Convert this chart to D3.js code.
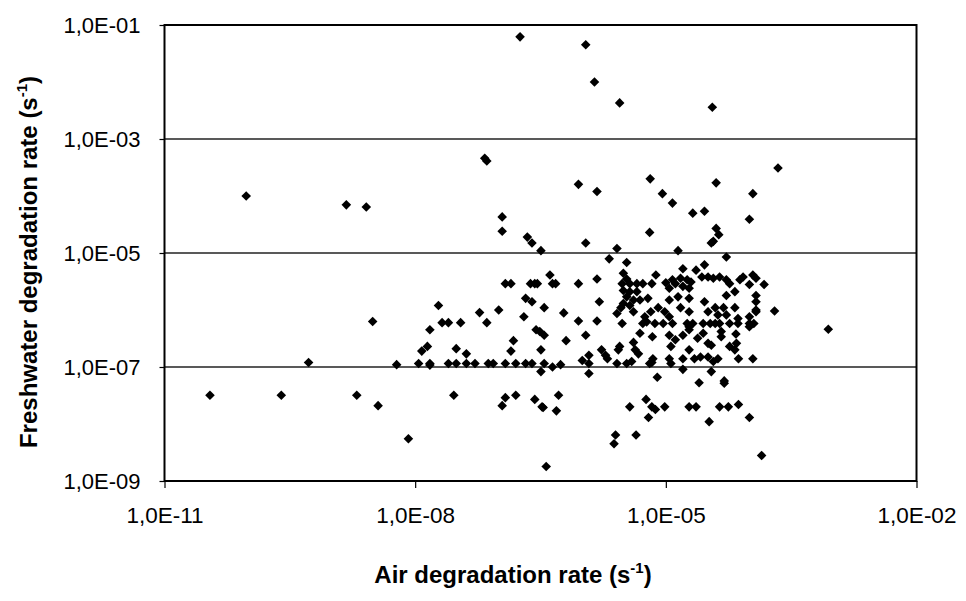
<!DOCTYPE html>
<html>
<head>
<meta charset="utf-8">
<script src="https://cdn.jsdelivr.net/npm/d3@7"></script>
<style>
  body { margin: 0; background: #fff; }
  svg { display: block; font-family: "Liberation Sans", Arial, sans-serif; }
</style>
</head>
<body>
<svg id="chart"></svg>
<script>
var width = 966
var height = 601

// air / freshwater degradation rates (s-1), one pair per point
var airRate = [
  1.8e-7, 1.1e-6, 1.4e-6, 2.8e-6, 6.8e-8, 7.2e-8, 3.6e-5, 2.2e-4, 9.5e-11, 1.5e-9,
  2.6e-9, 3.1e-9, 6.5e-6, 9.0e-7, 1.5e-6, 9.1e-6, 1.1e-7, 1.1e-7, 2.2e-7, 2.5e-7,
  3.2e-7, 1.1e-6, 2.6e-6, 2.1e-6, 3.4e-6, 4.1e-7, 1.2e-7, 1.4e-7, 2.4e-7, 2.7e-7,
  2.9e-7, 4.4e-7, 4.8e-7, 9.0e-7, 1.5e-6, 3.1e-6, 3.4e-6, 3.0e-6, 3.7e-6, 4.5e-6,
  5.3e-6, 6.8e-6, 7.6e-6, 3.1e-6, 3.7e-6, 4.5e-6, 3.4e-6, 4.1e-6, 4.9e-6, 6.1e-6,
  3.1e-6, 3.7e-6, 4.1e-6, 8.1e-6, 6.6e-6, 5.6e-6, 2.6e-6, 2.9e-6, 1.9e-8, 5.9e-8,
  1.0e-7, 2.1e-7, 2.5e-7, 3.5e-7, 2.0e-7, 6.0e-7, 1.6e-6, 9.0e-7, 1.5e-6, 3.0e-6,
  2.1e-8, 2.5e-8, 3.5e-8, 7.2e-8, 1.5e-8, 2.8e-7, 3.1e-7, 5.3e-6, 5.9e-6, 7.4e-6,
  4.9e-6, 3.5e-7, 1.1e-6, 6.9e-6, 6.4e-7, 1.5e-7, 1.2e-8, 1.4e-8, 3.1e-8, 4.1e-8,
  1.4e-7, 3.2e-7, 1.2e-6, 1.7e-6, 1.9e-6, 2.0e-6, 2.8e-6, 2.7e-6, 4.1e-6, 4.3e-6,
  4.7e-6, 6.8e-6, 7.0e-6, 1.1e-8, 1.5e-8, 2.5e-8, 3.1e-8, 4.1e-8, 5.2e-8, 7.5e-8,
  8.6e-8, 1.2e-7, 1.6e-7, 2.1e-7, 2.5e-7, 3.5e-7, 4.4e-7, 5.5e-7, 1.0e-6, 1.2e-6,
  2.6e-6, 3.4e-6, 3.9e-6, 6.4e-6, 1.5e-8, 3.2e-7, 1.2e-6, 7.9e-6, 2.9e-8, 1.2e-7,
  1.1e-7, 1.6e-7, 2.7e-7, 3.3e-7, 3.4e-7, 5.2e-7, 4.9e-7, 3.7e-6, 5.8e-6, 6.8e-6,
  7.5e-6, 6.2e-6, 8.3e-9, 2.5e-6, 2.4e-6, 4.4e-6, 3.7e-7, 5.3e-10, 6.0e-9, 3.5e-11,
  2.5e-10, 2.0e-9, 3.6e-9, 8.8e-4, 1.4e-4, 1.0e-4, 3.3e-5, 7.4e-5, 4.4e-5, 5.6e-5,
  1.9e-5, 2.3e-5, 9.7e-6, 2.5e-5, 5.0e-5, 5.0e-5, 1.6e-5, 3.5e-5, 1.1e-4, 7.4e-5,
  4.2e-5, 3.7e-5, 3.2e-5, 2.6e-5, 2.2e-5, 1.6e-5, 1.1e-5, 1.15e-5, 1.9e-5, 1.15e-5,
  1.3e-5, 1.1e-5, 1.6e-5, 1.9e-5, 2.4e-5, 2.8e-5, 3.2e-5, 3.5e-5, 5.8e-5, 6.7e-5,
  7.0e-5, 4.6e-5, 4.6e-5, 6.9e-5, 9.3e-6, 1.2e-5, 1.8e-5, 2.1e-5, 2.8e-5, 3.4e-5,
  4.4e-5, 5.8e-5, 7.3e-5, 1.0e-4, 1.13e-4, 1.0e-4, 1.9e-5, 3.9e-5, 4.0e-5, 1.1e-4,
  1.2e-5, 2.1e-5, 2.9e-5, 1.0e-4, 6.4e-6, 4.0e-5, 4.3e-5, 3.5e-5, 3.7e-5, 1.4e-5,
  5.3e-5, 1.6e-5, 2.3e-5, 2.9e-5, 1.0e-5, 1.2e-5, 1.3e-5, 1.5e-5, 1.8e-5, 2.0e-5,
  2.7e-5, 3.2e-5, 3.7e-5, 4.4e-5, 5.3e-5, 5.8e-5, 7.7e-5, 8.4e-5, 1.1e-4, 1.2e-4,
  1.0e-4, 1.5e-4, 1.1e-5, 1.6e-5, 1.9e-5, 1.1e-5, 1.4e-5, 1.5e-5, 1.9e-5, 2.9e-5,
  3.9e-5, 4.9e-5, 6.7e-5, 5.3e-5, 6.7e-5, 1.2e-4, 1.2e-4, 1.2e-4, 2.0e-4, 9.7e-6,
  1.1e-5, 1.9e-5, 3.2e-5, 4.2e-5, 5.3e-5, 7.3e-5, 1.0e-4, 1.2e-4
]

var freshwaterRate = [
  6.2e-2, 4.5e-2, 1.0e-2, 4.3e-3, 4.6e-4, 4.1e-4, 3.6e-3, 3.1e-4, 1.0e-4, 7.0e-5,
  6.4e-5, 6.3e-7, 2.0e-4, 1.6e-4, 1.2e-4, 1.1e-4, 4.3e-5, 2.4e-5, 1.9e-5, 1.5e-5,
  1.1e-5, 1.5e-5, 1.2e-5, 7.9e-6, 6.8e-6, 4.1e-6, 2.9e-6, 2.9e-6, 2.9e-6, 2.9e-6,
  2.9e-6, 2.9e-6, 2.9e-6, 2.9e-6, 3.5e-6, 4.4e-6, 3.5e-6, 2.9e-6, 2.9e-6, 2.9e-6,
  2.9e-6, 2.9e-6, 4.1e-6, 2.2e-6, 2.1e-6, 2.1e-6, 1.7e-6, 1.5e-6, 1.5e-6, 1.6e-6,
  1.3e-6, 1.2e-6, 9.3e-7, 1.1e-6, 9.3e-7, 7.6e-7, 8.7e-7, 1.1e-6, 1.2e-6, 9.0e-7,
  1.0e-6, 1.6e-6, 1.4e-6, 1.1e-6, 7.6e-7, 8.9e-7, 1.4e-6, 6.4e-7, 6.4e-7, 5.8e-7,
  6.0e-7, 6.0e-7, 6.0e-7, 6.0e-7, 4.5e-7, 4.5e-7, 4.2e-7, 5.8e-7, 6.2e-7, 5.8e-7,
  3.9e-7, 3.6e-7, 3.6e-7, 3.4e-7, 2.9e-7, 2.9e-7, 1.9e-7, 2.3e-7, 2.1e-7, 1.7e-7,
  1.9e-7, 2.0e-7, 1.6e-7, 2.0e-7, 1.6e-7, 1.4e-7, 2.3e-7, 2.0e-7, 2.7e-7, 2.0e-7,
  1.7e-7, 1.2e-7, 1.4e-7, 1.15e-7, 1.15e-7, 1.15e-7, 1.15e-7, 1.15e-7, 1.15e-7, 1.15e-7,
  1.15e-7, 1.15e-7, 1.15e-7, 1.15e-7, 1.15e-7, 1.15e-7, 1.0e-7, 1.1e-7, 1.3e-7, 1.15e-7,
  1.15e-7, 1.15e-7, 1.25e-7, 1.15e-7, 1.08e-7, 8.3e-8, 7.7e-8, 6.6e-8, 3.2e-8, 2.9e-8,
  2.1e-8, 3.2e-8, 2.7e-8, 2.0e-8, 1.95e-8, 3.2e-8, 1.7e-8, 2.0e-8, 2.7e-8, 2.0e-8,
  1.8e-8, 1.3e-8, 5.5e-9, 6.4e-9, 4.5e-9, 6.4e-9, 1.8e-9, 1.2e-7, 1.1e-7, 3.2e-8,
  3.2e-8, 3.2e-8, 2.1e-8, 4.6e-7, 2.8e-9, 1.3e-8, 1.1e-8, 2.2e-8, 2.0e-8, 2.0e-8,
  2.0e-8, 2.0e-8, 2.0e-8, 5.3e-8, 5.7e-8, 5.2e-8, 9.1e-8, 8.3e-8, 1.4e-7, 1.4e-7,
  1.4e-7, 1.25e-7, 1.5e-7, 1.5e-7, 1.4e-7, 1.4e-7, 1.4e-7, 1.15e-7, 2.0e-7, 2.3e-7,
  3.0e-7, 3.6e-7, 3.6e-7, 4.5e-7, 3.2e-7, 3.9e-7, 2.6e-7, 2.4e-7, 2.3e-7, 2.0e-7,
  2.6e-7, 4.2e-7, 3.4e-7, 3.8e-7, 5.8e-7, 5.8e-7, 5.8e-7, 5.8e-7, 5.8e-7, 5.8e-7,
  5.8e-7, 5.8e-7, 5.8e-7, 5.8e-7, 5.8e-7, 5.1e-7, 5.1e-7, 5.8e-7, 1.7e-4, 1.1e-4,
  7.5e-5, 5.0e-5, 5.4e-5, 3.9e-5, 2.3e-5, 2.7e-5, 2.1e-5, 1.5e-5, 1.6e-5, 1.1e-5,
  8.5e-6, 5.3e-6, 5.0e-6, 6.2e-6, 3.0e-6, 3.4e-6, 2.9e-6, 3.6e-6, 3.4e-6, 3.1e-6,
  3.8e-6, 3.8e-6, 3.6e-6, 3.8e-6, 3.4e-6, 2.9e-6, 3.4e-6, 3.8e-6, 4.1e-6, 3.6e-6,
  2.8e-6, 2.8e-6, 2.4e-6, 2.6e-6, 2.4e-6, 1.5e-6, 1.7e-6, 1.1e-6, 1.6e-6, 1.4e-6,
  1.1e-6, 1.1e-6, 1.1e-6, 1.8e-6, 2.1e-6, 1.8e-6, 1.4e-6, 1.0e-6, 9.6e-7, 9.3e-7,
  7.6e-7, 9.3e-7, 9.3e-7, 8.2e-7, 8.2e-7, 7.1e-7, 7.6e-7, 9.3e-7
]

var xTicks = [1e-11, 1e-8, 1e-5, 1e-2]
var yTicks = [1e-9, 1e-7, 1e-5, 1e-3, 1e-1]
var yGrid = [1e-7, 1e-5, 1e-3]

var points = airRate.map(function(a, i) { return { air: a, fresh: freshwaterRate[i] } })

var margin = { left: 164.5, right: 49.5, top: 25, bottom: 120 }

var x = d3.scaleLog()
    .domain([1e-11, 1e-2])
    .range([margin.left, width - margin.right])

var y = d3.scaleLog()
    .domain([1e-9, 1e-1])
    .range([height - margin.bottom, margin.top])

// "1,0E-05" style labels
function sciLabel(v) {
    var e = Math.round(Math.log10(v))
    var sign = e < 0 ? "-" : "+"
    return "1,0E" + sign + String(Math.abs(e)).padStart(2, "0")
}

var svg = d3.select("#chart")
    .attr("width", width)
    .attr("height", height)

svg.append("rect")
    .attr("width", width)
    .attr("height", height)
    .attr("fill", "#fff")

// gridlines
svg.append("g")
    .selectAll("line")
    .data(yGrid)
    .enter()
    .append("line")
        .attr("x1", x.range()[0])
        .attr("x2", x.range()[1])
        .attr("y1", d => y(d))
        .attr("y2", d => y(d))
        .attr("stroke", "#222")
        .attr("stroke-width", 1.3)

// y axis
var yAxis = svg.append("g")
    .attr("transform", "translate(" + margin.left + ",0)")
    .call(d3.axisLeft(y).tickValues(yTicks).tickFormat(sciLabel).tickSize(5).tickPadding(19))
yAxis.select(".domain").remove()
yAxis.selectAll("line").attr("stroke", "#000").attr("stroke-width", 1.2)
yAxis.selectAll("text")
    .attr("fill", "#000")
    .style("font-size", "22px")

// x axis
var xAxis = svg.append("g")
    .attr("transform", "translate(0," + y.range()[0] + ")")
    .call(d3.axisBottom(x).tickValues(xTicks).tickFormat(sciLabel).tickSize(7).tickPadding(19))
xAxis.select(".domain").remove()
xAxis.selectAll("line").attr("stroke", "#000").attr("stroke-width", 1.2)
xAxis.selectAll("text")
    .attr("fill", "#000")
    .style("font-size", "22.5px")

// plot frame
svg.append("rect")
    .attr("x", x.range()[0])
    .attr("y", y.range()[1])
    .attr("width", x.range()[1] - x.range()[0])
    .attr("height", y.range()[0] - y.range()[1])
    .attr("fill", "none")
    .attr("stroke", "#000")
    .attr("stroke-width", 2)

// diamonds
var diamond = d3.symbol().type(d3.symbolSquare).size(46)
svg.append("g")
    .selectAll("path")
    .data(points)
    .enter()
    .append("path")
        .attr("d", diamond)
        .attr("transform", d => "translate(" + x(d.air) + "," + y(d.fresh) + ") rotate(45)")
        .attr("fill", "#000")

// axis titles
var xTitle = svg.append("text")
    .attr("x", 513)
    .attr("y", 583)
    .attr("text-anchor", "middle")
    .style("font-size", "24px")
    .style("font-weight", "bold")
xTitle.append("tspan").text("Air degradation rate (s")
xTitle.append("tspan").attr("dy", -10).style("font-size", "15px").text("-1")
xTitle.append("tspan").attr("dy", 10).text(")")

var yTitle = svg.append("text")
    .attr("transform", "translate(37,262) rotate(-90)")
    .attr("text-anchor", "middle")
    .style("font-size", "24px")
    .style("font-weight", "bold")
yTitle.append("tspan").text("Freshwater degradation rate (s")
yTitle.append("tspan").attr("dy", -10).style("font-size", "15px").text("-1")
yTitle.append("tspan").attr("dy", 10).text(")")
</script>
</body>
</html>
